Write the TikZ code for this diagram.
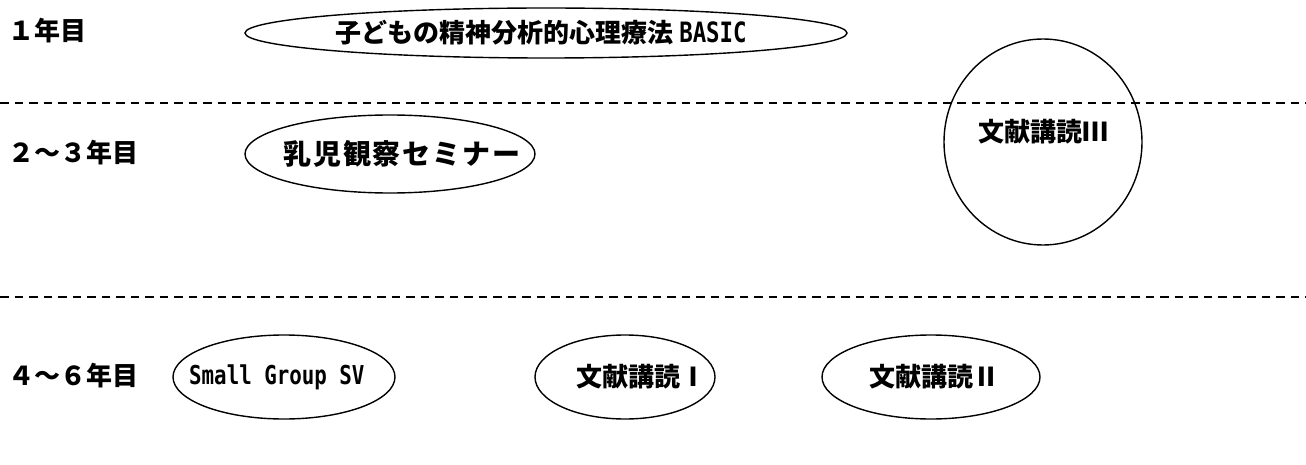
\documentclass[tikz,border=0pt]{standalone}
\usepackage{fontspec}
\newfontfamily\jp{Noto Sans CJK JP}
\newfontfamily\jpwide{Noto Sans CJK JP}[LetterSpace=7]
\newfontfamily\mono{DejaVu Sans Mono}
\usetikzlibrary{shapes.geometric}
\newcommand{\lat}[2]{\scalebox{0.8}[1]{\mono\fontsize{#1}{#1}\selectfont #2}}
\begin{document}
\begin{tikzpicture}[x=1pt,y=-1pt,
  oval/.style={draw, ellipse, line width=1.4pt, inner sep=0pt},
  lab/.style={font=\jp\bfseries\fontsize{26}{30}\selectfont, anchor=west, inner sep=0pt},
  txt/.style={font=\jp\bfseries\fontsize{26}{30}\selectfont, inner sep=0pt},
  divider/.style={line width=1.3pt, dash pattern=on 8.5pt off 6pt}]
\useasboundingbox (0,0) rectangle (1306,465);
% dividers
\coordinate (d1l) at (0,103);
\coordinate (d1r) at (1306,103);
\coordinate (d2l) at (0,297);
\coordinate (d2r) at (1306,297);
\draw[divider] (d1l) -- (d1r);
\draw[divider] (d2l) -- (d2r);
% row labels
\node[lab] (y1) at (8,31) {１年目};
\node[lab] (y23) at (8,153) {２～３年目};
\node[lab] (y46) at (8,376) {４～６年目};
% ellipses
\node[oval, minimum width=602pt, minimum height=50pt] (basic) at (546,33) {};
\node[txt] (basict) at (541,33) {子どもの精神分析的心理療法 \lat{28}{BASIC}};
\node[oval, minimum width=290pt, minimum height=78pt] (obs) at (390,154) {};
\node[txt, font=\jpwide\bfseries\fontsize{28}{32}\selectfont] (obst) at (402,154) {乳児観察セミナー};
\node[oval, minimum width=198pt, minimum height=206pt] (lit3) at (1043,142) {};
\node[txt] (lit3t) at (1043,132) {文献講読Ⅲ};
\node[oval, minimum width=222pt, minimum height=84pt] (sg) at (284,377) {};
\node[txt, anchor=west] (sgt) at (189,377) {\lat{26}{Small Group SV}};
\node[oval, minimum width=180pt, minimum height=84pt] (lit1) at (625,377) {};
\node[txt] (lit1t) at (641,377) {文献講読Ⅰ};
\node[oval, minimum width=218pt, minimum height=84pt] (lit2) at (931,377) {};
\node[txt] (lit2t) at (934,377) {文献講読Ⅱ};
\end{tikzpicture}
\end{document}
